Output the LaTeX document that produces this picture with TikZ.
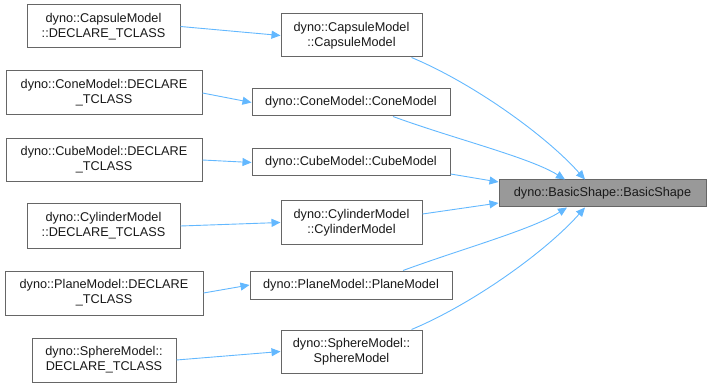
\documentclass[tikz,border=0pt]{standalone}
\usepackage{fontspec}
\setmainfont{Liberation Sans}
\usetikzlibrary{arrows.meta}
\definecolor{edgeblue}{HTML}{63B8FF}
\definecolor{boxline}{HTML}{666666}
\definecolor{rootfill}{HTML}{999999}
\begin{document}
\begin{tikzpicture}[x=1pt,y=-1pt,
  box/.style={draw=boxline,fill=white,line width=1pt,inner sep=0pt,
    align=center,font=\fontsize{12.7}{15}\selectfont,text=black!90},
  rootbox/.style={box,fill=rootfill},
  link/.style={draw=edgeblue,line width=0.9pt,
    -{Triangle[length=9pt,width=8pt,fill=edgeblue]}}]
\useasboundingbox (0,0) rectangle (711,387);

% caller-side DECLARE_TCLASS nodes
\node[box,minimum width=153pt,minimum height=43pt] (l1) at (103.5,26.5) {dyno::CapsuleModel\\::DECLARE\_TCLASS};
\node[box,minimum width=196pt,minimum height=44pt] (l2) at (104,93) {dyno::ConeModel::DECLARE\\\_TCLASS};
\node[box,minimum width=196pt,minimum height=43pt] (l3) at (104,160) {dyno::CubeModel::DECLARE\\\_TCLASS};
\node[box,minimum width=153pt,minimum height=44pt] (l4) at (103.5,226) {dyno::CylinderModel\\::DECLARE\_TCLASS};
\node[box,minimum width=198pt,minimum height=44pt] (l5) at (104,293) {dyno::PlaneModel::DECLARE\\\_TCLASS};
\node[box,minimum width=144pt,minimum height=44pt] (l6) at (104,360) {dyno::SphereModel::\\DECLARE\_TCLASS};

% constructors
\node[box,minimum width=141pt,minimum height=43pt] (m1) at (351.5,35.5) {dyno::CapsuleModel\\::CapsuleModel};
\node[box,minimum width=198pt,minimum height=27pt] (m2) at (351,102.5) {dyno::ConeModel::ConeModel};
\node[box,minimum width=198pt,minimum height=27pt] (m3) at (351,162.5) {dyno::CubeModel::CubeModel};
\node[box,minimum width=141pt,minimum height=43pt] (m4) at (351.5,222.5) {dyno::CylinderModel\\::CylinderModel};
\node[box,minimum width=202pt,minimum height=28pt] (m5) at (351,285) {dyno::PlaneModel::PlaneModel};
\node[box,minimum width=141pt,minimum height=43pt] (m6) at (351.5,351.5) {dyno::SphereModel::\\SphereModel};

% base constructor
\node[rootbox,minimum width=207pt,minimum height=27pt] (bs) at (602.5,193.5) {dyno::BasicShape::BasicShape};

% DECLARE_TCLASS -> constructor
\draw[link] (l1.east) -- (m1.west);
\draw[link] (l2.east) -- (m2.west);
\draw[link] (l3.east) -- (m3.west);
\draw[link] (l4.east) -- (m4.west);
\draw[link] (l5.east) -- (m5.west);
\draw[link] (l6.east) -- (m6.west);

% constructor -> BasicShape
\draw[link] ([xshift=60pt]m1.south) .. controls +(60,25) and +(-40,-45) .. ([xshift=-17.5pt]bs.north);
\draw[link] ([xshift=42pt]m2.south) .. controls +(60,22) and +(-35,-22) .. ([xshift=-37.5pt]bs.north);
\draw[link] ([yshift=-11.5pt]m3.east) -- ([yshift=11.5pt]bs.west);
\draw[link] ([yshift=8.5pt]m4.east) -- ([yshift=-9.5pt]bs.west);
\draw[link] ([xshift=52pt]m5.north) .. controls +(60,-22) and +(-35,22) .. ([xshift=-35.5pt]bs.south);
\draw[link] ([xshift=60pt]m6.north) .. controls +(60,-25) and +(-40,45) .. ([xshift=-17.5pt]bs.south);
\end{tikzpicture}
\end{document}
